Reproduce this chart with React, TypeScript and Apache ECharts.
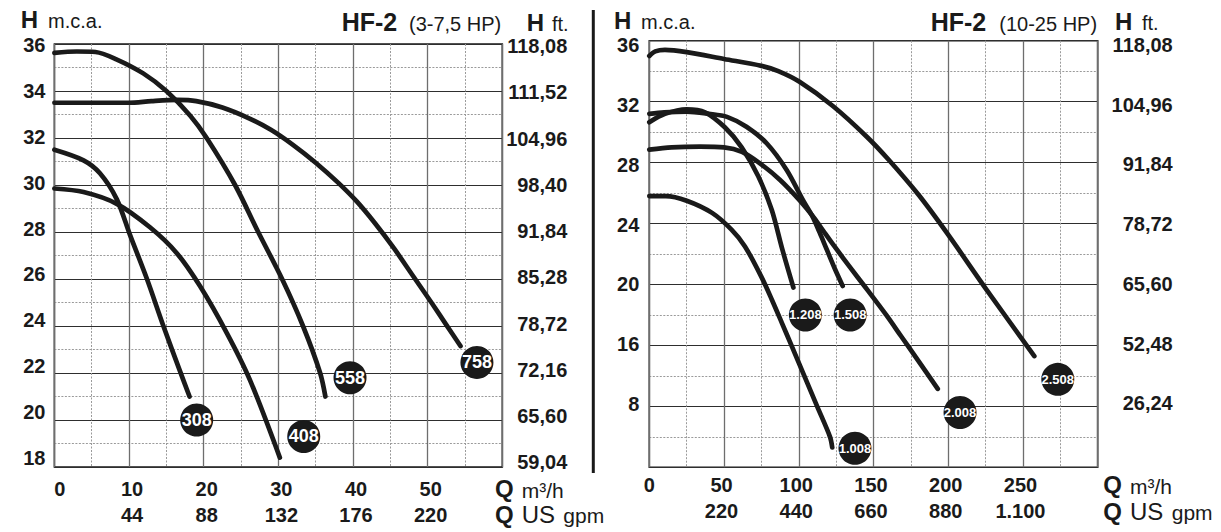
import React, { useEffect, useRef } from 'react';
import * as echarts from 'echarts';

const FONT = "'Liberation Sans', Arial, Helvetica, sans-serif";
const INK = '#1a1a1a';

// ---------- left panel: HF-2 (3-7,5 HP) ----------
const leftQLabels = ['0', '10', '20', '30', '40', '50'];
const leftGpmLabels = ['', '44', '88', '132', '176', '220'];
const leftHTicks = [18, 20, 22, 24, 26, 28, 30, 32, 34, 36];
const leftFtLabels = ['59,04', '65,60', '72,16', '78,72', '85,28', '91,84', '98,40', '104,96', '111,52', '118,08'];

const curve308 = [[0, 31.5], [3.9, 31.05], [6.1, 30.5], [8.35, 29.4], [10.1, 27.9], [12.4, 26.0], [14.6, 24.0], [16.8, 22.1], [18.1, 21.0]];
const curve408 = [[0, 29.85], [3.9, 29.7], [8.35, 29.2], [12.8, 28.2], [16.4, 27.1], [19.5, 25.7], [23.1, 23.7], [26.2, 21.7], [30.2, 18.4]];
const curve558 = [[0, 35.62], [3, 35.68], [5.5, 35.66], [8.3, 35.35], [11.9, 34.75], [15, 34.0], [18.2, 32.95], [20.4, 32.0], [24.2, 30.0], [27.3, 28.0], [30.5, 26.0], [33.3, 24.0], [35.6, 22.0], [36.3, 21.0]];
const curve758 = [[0, 33.5], [5, 33.5], [10, 33.5], [13, 33.57], [16.5, 33.62], [19, 33.57], [22.5, 33.3], [26, 32.85], [29, 32.35], [32, 31.7], [35, 30.95], [38, 30.1], [40.5, 29.3], [43, 28.35], [45.5, 27.3], [48, 26.15], [50.5, 25.0], [52.5, 24.05], [54.4, 23.15]];
const leftCurveList = [curve308, curve408, curve558, curve758];

const leftBadgeNames = ['308', '408', '558', '758'];
const leftBadgeQ = [19.06, 33.4, 39.6, 56.6];
const leftBadgeH = [20.0, 19.3, 21.8, 22.45];

// ---------- right panel: HF-2 (10-25 HP) ----------
const rightQLabels = ['0', '50', '100', '150', '200', '250'];
const rightGpmLabels = ['', '220', '440', '660', '880', '1.100'];
const rightHTicks = [8, 16, 20, 24, 28, 32, 36];
const rightFtLabels = ['26,24', '52,48', '65,60', '78,72', '91,84', '104,96', '118,08'];

const curve1008 = [[0, 25.8], [11, 25.8], [25, 25.5], [42, 24.7], [55, 23.6], [64, 22.5], [75, 20.5], [82, 19.0], [88.6, 17.5], [95.1, 16.0], [103.7, 12.0], [112.3, 8.0], [120.9, 4.0], [122.4, 2.6]];
const curve1208 = [[0, 30.65], [10.5, 31.2], [25, 31.5], [37.3, 31.3], [50.7, 30.3], [61.8, 29.0], [72.9, 27.1], [81.9, 24.9], [89, 22.3], [96.4, 19.8]];
const curve1508 = [[0, 31.2], [10, 31.3], [25, 31.35], [40, 31.2], [52, 31.0], [65, 30.35], [78.5, 29.27], [92, 27.5], [103, 25.5], [109, 24.5], [114, 23.4], [118.7, 22.3], [124.5, 20.95], [129.4, 19.9]];
const curve2008 = [[0, 28.85], [15, 29.0], [34, 29.05], [50, 29.0], [62, 28.7], [74, 27.95], [87.5, 26.86], [100.8, 25.5], [110, 24.4], [118, 23.3], [125.4, 22.3], [134.5, 21.1], [144.3, 19.85], [158.5, 18.0], [168.5, 16.6], [178.5, 14.4], [193, 10.3]];
const curve2508 = [[0, 35.0], [4, 35.3], [10.5, 35.4], [25, 35.25], [50, 34.8], [75, 34.35], [86.3, 34.0], [100.5, 33.3], [123, 31.7], [145.5, 29.7], [160, 28.2], [180, 25.9], [199.7, 23.3], [224.6, 19.8], [257.6, 14.6]];
const rightCurveList = [curve1008, curve1208, curve1508, curve2008, curve2508];

const rightBadgeNames = ['1.008', '1.208', '1.508', '2.008', '2.508'];
const rightBadgeQ = [137.6, 104.4, 134.4, 207.9, 273.3];
const rightBadgeH = [2.5, 18.0, 18.0, 7.2, 11.55];

// right panel uses a broken head scale: 4 m per grid step below 16 m, 2 m per step above
const posOf = (h: number) => (h <= 16 ? h / 4 : 4 + (h - 16) / 2);

// ---------- layout ----------
const GL = { left: 54.4, top: 44, width: 447.9, height: 423 };
const GR = { left: 649.3, top: 40.7, width: 448.4, height: 426.6 };

function labelRange(vTop: number, yTop: number, vBot: number, yBot: number, g: any) {
  const bottom = g.top + g.height;
  const fTop = (bottom - yTop) / g.height;
  const fBot = (bottom - yBot) / g.height;
  const span = (vTop - vBot) / (fTop - fBot);
  const min = vBot - fBot * span;
  return { min, max: min + span };
}

function lookup(vals: number[], labels: string[], v: number) {
  for (let i = 0; i < vals.length; i++) if (Math.abs(vals[i] - v) < 1e-6) return labels[i];
  return '';
}

const labelFont = { fontSize: 20, fontWeight: 'bold', fontFamily: FONT, color: INK };

function txt(text: string, x: number, baseline: number, size: number, weight = 'normal') {
  return {
    type: 'text',
    x,
    y: baseline - 0.3465 * size,
    silent: true,
    style: {
      text,
      fontSize: size,
      fontWeight: weight,
      fontFamily: FONT,
      fill: INK,
      align: 'left',
      textAlign: 'left',
      verticalAlign: 'middle',
      textVerticalAlign: 'middle',
    },
  };
}

function mainX(gridIndex: number, max: number, interval: number, qLabels: string[], gLabels: string[], margin: number, left: boolean) {
  return {
    type: 'value',
    gridIndex,
    min: 0,
    max,
    interval,
    axisLine: { show: false },
    axisTick: { show: false },
    splitLine: { show: true, lineStyle: { color: '#6e6e6e', width: 1.3 } },
    minorTick: { show: false, splitNumber: 2 },
    minorSplitLine: { show: true, lineStyle: { color: '#9a9a9a', width: 1, type: [2, 1.5] } },
    axisLabel: {
      margin,
      formatter: (v: number) => {
        const i = Math.round(v / interval);
        if (i >= qLabels.length) return '';
        const qs = i === 0 ? 'q0' : 'q';
        const g = gLabels[i] || ' ';
        return `{${qs}|${qLabels[i]}}\n{g|${g}}`;
      },
      rich: {
        q: { ...labelFont, lineHeight: 26, padding: left ? [0, 0, 0, 6] : [0, 5, 0, 0] },
        q0: { ...labelFont, lineHeight: 26, padding: left ? [0, 0, 0, 11] : [0, 0, 0, 0] },
        g: { ...labelFont, lineHeight: 26, padding: left ? [0, 0, 0, 6] : [0, 5, 0, 0] },
      },
    },
  };
}

function mainY(gridIndex: number, min: number, max: number) {
  return {
    type: 'value',
    gridIndex,
    min,
    max,
    interval: 2,
    position: 'left',
    axisLine: { show: false },
    axisTick: { show: false },
    axisLabel: { show: false },
    splitLine: { show: true, lineStyle: { color: '#2e2e2e', width: 1 } },
    minorTick: { show: false, splitNumber: 2 },
    minorSplitLine: { show: true, lineStyle: { color: '#9a9a9a', width: 1, type: [2, 1.5] } },
  };
}

function labelY(gridIndex: number, position: string, range: any, vals: number[], labels: string[], margin: number) {
  return {
    type: 'value',
    gridIndex,
    position,
    min: range.min,
    max: range.max,
    axisLine: { show: false },
    axisTick: { show: false },
    splitLine: { show: false },
    axisLabel: {
      ...labelFont,
      margin,
      align: 'right',
      customValues: vals,
      formatter: (v: number) => lookup(vals, labels, v),
    },
  };
}

const lineStyle = { color: INK, width: 4.7, cap: 'round', join: 'round' };

function buildOption() {
  const rightPosTicks = rightHTicks.map(posOf);
  const series: any[] = [];
  leftCurveList.forEach((c) => {
    series.push({
      type: 'line', xAxisIndex: 0, yAxisIndex: 0, data: c, showSymbol: false, symbol: 'none',
      smooth: 0.3, lineStyle, silent: true, z: 3,
    });
  });
  rightCurveList.forEach((c) => {
    series.push({
      type: 'line', xAxisIndex: 1, yAxisIndex: 3, data: c.map(([q, h]) => [q, posOf(h)]), showSymbol: false, symbol: 'none',
      smooth: 0.3, lineStyle, silent: true, z: 3,
    });
  });
  series.push({
    type: 'scatter', xAxisIndex: 0, yAxisIndex: 0, symbol: 'circle', symbolSize: 33, z: 5, silent: true,
    itemStyle: { color: INK, opacity: 1 },
    label: { show: true, position: 'inside', formatter: '{b}', color: '#fff', fontSize: 18, fontWeight: 'bold', fontFamily: FONT, textBorderColor: INK, textBorderWidth: 1 },
    data: leftBadgeNames.map((n, i) => ({ name: n, value: [leftBadgeQ[i], leftBadgeH[i]] })),
  });
  series.push({
    type: 'scatter', xAxisIndex: 1, yAxisIndex: 3, symbol: 'circle', symbolSize: 33, z: 5, silent: true,
    itemStyle: { color: INK, opacity: 1 },
    label: { show: true, position: 'inside', formatter: '{b}', color: '#fff', fontSize: 13, fontWeight: 'bold', fontFamily: FONT },
    data: rightBadgeNames.map((n, i) => ({ name: n, value: [rightBadgeQ[i], posOf(rightBadgeH[i])] })),
  });

  return {
    animation: false,
    backgroundColor: '#ffffff',
    grid: [
      { ...GL, show: true, borderColor: INK, borderWidth: 1.6, backgroundColor: 'transparent', containLabel: false },
      { ...GR, show: true, borderColor: INK, borderWidth: 1.6, backgroundColor: 'transparent', containLabel: false },
    ],
    xAxis: [
      mainX(0, 60, 10, leftQLabels, leftGpmLabels, 9, true),
      mainX(1, 300, 50, rightQLabels, rightGpmLabels, 5, false),
    ],
    yAxis: [
      mainY(0, 18, 36),
      labelY(0, 'left', labelRange(36, 45, 18, 458, GL), leftHTicks, leftHTicks.map(String), 9),
      labelY(0, 'right', labelRange(36, 46, 18, 462.3, GL), leftHTicks, leftFtLabels, 65),
      mainY(1, 0, 14),
      labelY(1, 'left', labelRange(14, 45, 2, 404, GR), rightPosTicks, rightHTicks.map(String), 10),
      labelY(1, 'right', labelRange(14, 45, 2, 403.3, GR), rightPosTicks, rightFtLabels, 75),
    ],
    series,
    graphic: {
      elements: [
        { type: 'line', silent: true, shape: { x1: 593.3, y1: 10, x2: 593.3, y2: 473 }, style: { stroke: INK, lineWidth: 3 } },
        txt('H', 20.7, 28.3, 24, 'bold'),
        txt('m.c.a.', 48, 28.3, 20),
        txt('HF-2', 341.7, 30.7, 25, 'bold'),
        txt('(3-7,5 HP)', 409, 30.7, 20),
        txt('H', 526.7, 30.7, 24, 'bold'),
        txt('ft.', 552, 30.7, 20),
        txt('H', 614, 29.3, 24, 'bold'),
        txt('m.c.a.', 641, 29.3, 20),
        txt('HF-2', 930.7, 30.7, 25, 'bold'),
        txt('(10-25 HP)', 999.3, 30.7, 20),
        txt('H', 1115, 30.3, 24, 'bold'),
        txt('ft.', 1142, 30.3, 20),
        txt('Q', 495, 497.3, 24, 'bold'),
        txt('m³/h', 521.7, 497.3, 21),
        txt('Q', 495, 522.7, 24, 'bold'),
        txt('US', 521.7, 522.7, 24),
        txt('gpm', 563.3, 522.7, 21),
        txt('Q', 1103.3, 493.3, 24, 'bold'),
        txt('m³/h', 1130, 493.3, 21),
        txt('Q', 1103.3, 520, 24, 'bold'),
        txt('US', 1130, 520, 24),
        txt('gpm', 1171.7, 520, 21),
      ],
    },
  };
}

export default function App() {
  const ref = useRef<HTMLDivElement | null>(null);
  useEffect(() => {
    if (!ref.current) return;
    const chart = echarts.init(ref.current, null, { renderer: 'svg' });
    chart.setOption(buildOption() as any);
    return () => chart.dispose();
  }, []);
  return (
    <div
      ref={ref}
      style={{ position: 'absolute', left: 0, top: 0, width: 1221, height: 532, background: '#ffffff' }}
    />
  );
}
